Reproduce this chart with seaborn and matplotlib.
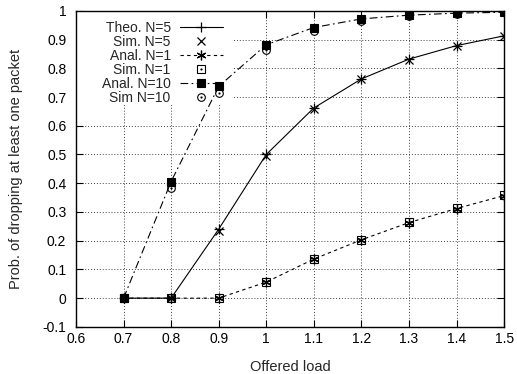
import matplotlib
matplotlib.use("Agg")
import matplotlib.pyplot as plt
from matplotlib.lines import Line2D
from matplotlib.patches import Rectangle
from matplotlib.ticker import FormatStrFormatter, MultipleLocator
import seaborn as sns
import pandas as pd

# Offered load points
load = [0.7, 0.8, 0.9, 1.0, 1.1, 1.2, 1.3, 1.4, 1.5]

# Drop probability, N=5
theo_n5 = [0.0, 0.0, 0.240, 0.500, 0.662, 0.763, 0.832, 0.879, 0.913]
sim_n5 = [0.0, 0.0, 0.235, 0.495, 0.658, 0.762, 0.830, 0.876, 0.912]

# Drop probability, N=1
anal_n1 = [0.0, 0.0, 0.0, 0.056, 0.136, 0.203, 0.263, 0.312, 0.357]
sim_n1 = [0.0, 0.0, 0.0, 0.056, 0.137, 0.204, 0.264, 0.313, 0.358]

# Drop probability, N=10
anal_n10 = [0.0, 0.406, 0.737, 0.882, 0.942, 0.972, 0.985, 0.992, 0.995]
sim_n10 = [0.0, 0.385, 0.713, 0.862, 0.931, 0.966, 0.983, 0.990, 0.995]

labels = ["Theo. N=5", "Sim. N=5", "Anal. N=1", "Sim. N=1", "Anal. N=10", "Sim N=10"]

df = pd.DataFrame({
    "load": load,
    "theo_n5": theo_n5, "sim_n5": sim_n5,
    "anal_n1": anal_n1, "sim_n1": sim_n1,
    "anal_n10": anal_n10, "sim_n10": sim_n10,
})

sns.set_style("ticks")
plt.rcParams["font.family"] = ["Liberation Sans", "DejaVu Sans"]
plt.rcParams["font.size"] = 10

fig = plt.figure(figsize=(5.17, 3.74), dpi=100)
ax = fig.add_axes([0.147, 0.126, 0.828, 0.845])

lw = 0.8
dash = (0, (3, 3))
dashdot = (0, (7, 3, 1.5, 3))

# Star marker: + and x overlaid
star = (6, 2, 0)

styles = {
    "theo_n5": dict(color="k", mec="k", lw=lw, ls="-", marker="+", ms=7.5, mew=0.9),
    "sim_n5": dict(color="k", mec="k", ls="none", marker="x", ms=6, mew=0.9),
    "anal_n1": dict(color="k", mec="k", lw=lw, ls=dash, marker=star, ms=7, mew=0.9),
    "sim_n1": dict(color="k", mec="k", ls="none", marker="s", ms=5.5, mew=0.8, mfc="none"),
    "anal_n10": dict(color="k", mec="k", lw=lw, ls=dashdot, marker="s", ms=5.8, mew=0.8),
    "sim_n10": dict(color="k", mec="k", ls="none", marker="o", ms=5.5, mew=0.8, mfc="none"),
}
dot = dict(color="k", mec="k", ls="none", marker="o", ms=1.6, mew=0)

for key, st in styles.items():
    sns.lineplot(data=df, x="load", y=key, ax=ax, zorder=3, **st)
    if key in ("sim_n1", "sim_n10"):
        sns.lineplot(data=df, x="load", y=key, ax=ax, zorder=3, **dot)

ax.set_xlim(0.6, 1.5)
ax.set_ylim(-0.1, 1.0)
ax.xaxis.set_major_locator(MultipleLocator(0.1))
ax.yaxis.set_major_locator(MultipleLocator(0.1))
ax.xaxis.set_major_formatter(FormatStrFormatter("%g"))
ax.yaxis.set_major_formatter(FormatStrFormatter("%g"))
ax.tick_params(direction="in", length=5, width=0.8, top=True, right=True,
               labelsize=10, colors="k")
ax.tick_params(axis="y", pad=7)
ax.tick_params(axis="x", pad=4)
for s in ax.spines.values():
    s.set_linewidth(1.0)
    s.set_color("k")

ax.grid(True, color="0.25", ls=(0, (1, 2)), lw=0.7)
ax.set_axisbelow(True)

# Blank key area: hides the grid but stays beneath the curves
ax.add_patch(Rectangle((0.0, 0.7025), 0.364, 0.2975, transform=ax.transAxes,
                       facecolor="white", edgecolor="none", zorder=1.5))

ax.set_xlabel("Offered load", fontsize=10.5, labelpad=10)
ax.set_ylabel("Prob. of dropping at least one packet", fontsize=10.5, labelpad=14)

handles = []
for key in styles:
    h = Line2D([], [], **styles[key])
    if key in ("sim_n1", "sim_n10"):
        h = (h, Line2D([], [], **dot))
    handles.append(h)

leg = ax.legend(handles, labels, loc="upper right", bbox_to_anchor=(0.343, 0.968),
                markerfirst=False, frameon=False, fontsize=10,
                handlelength=3.1, handletextpad=0.65, labelspacing=0.0,
                borderpad=0.0, borderaxespad=0.0)
leg.set_zorder(4)

fig.savefig("out.png", dpi=100)
